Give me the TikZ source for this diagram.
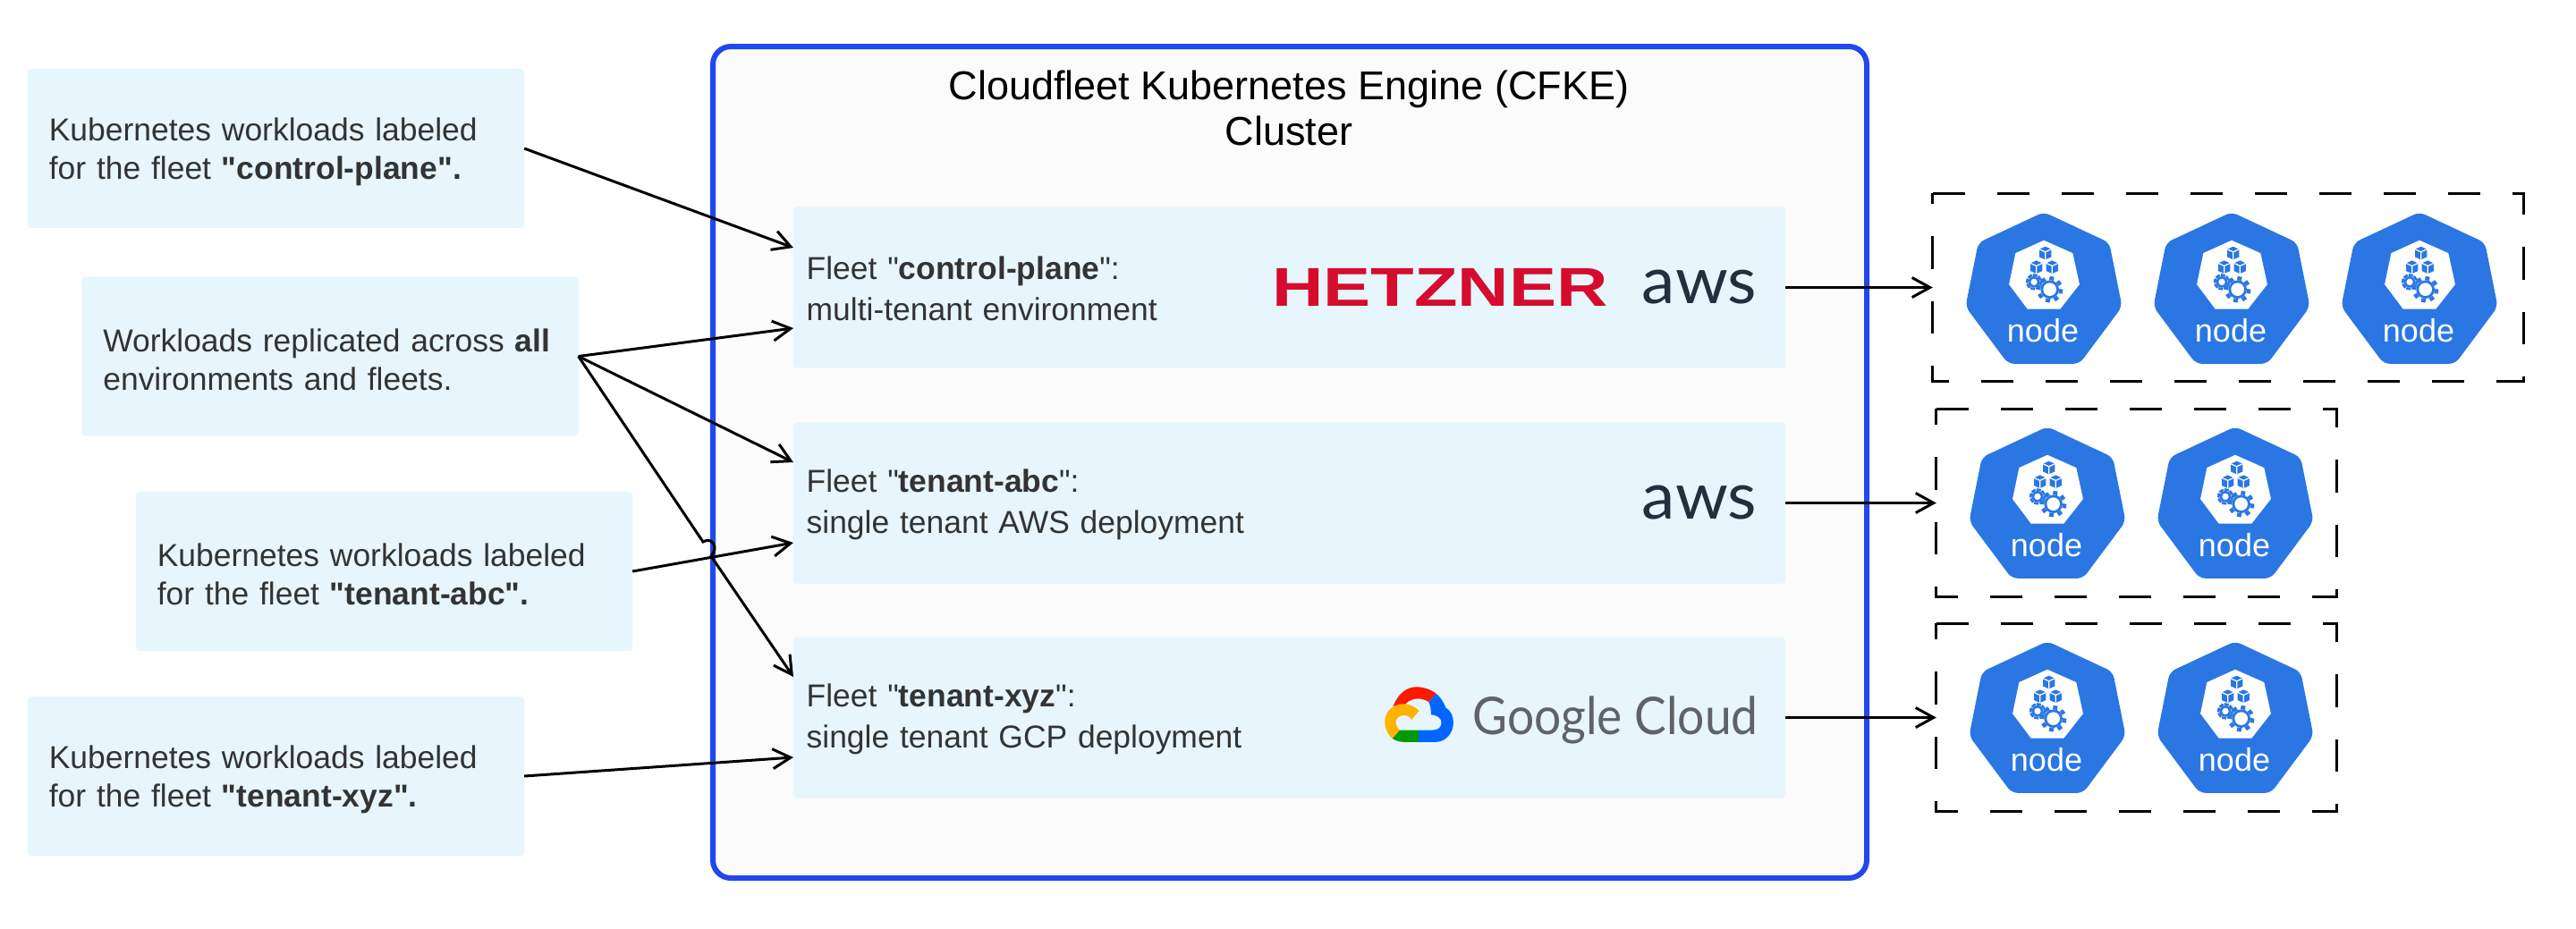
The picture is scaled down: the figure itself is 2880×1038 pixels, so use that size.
\documentclass[tikz,border=0pt]{standalone}
\usepackage{fontspec}
\setmainfont{Liberation Sans}[Ligatures=TeXOff]
\newfontfamily\logofont{Lato}
\usetikzlibrary{arrows.meta}
\definecolor{boxblue}{HTML}{E6F6FC}
\definecolor{clusterblue}{HTML}{2048EE}
\definecolor{kubeblue}{HTML}{2A77E3}
\definecolor{bodygrey}{HTML}{333333}
\definecolor{hetznerred}{HTML}{D50C2D}
\definecolor{awsnavy}{HTML}{232F3E}
\definecolor{googlegrey}{HTML}{5F6368}
\tikzset{
	plainbox/.style={fill=boxblue, rounded corners=0.04cm, text=bodygrey, align=left, outer sep=0, inner ysep=0},
	workbox/.style={plainbox, inner xsep=0.24cm, text width=5.07cm, minimum height=1.78cm, font=\fontsize{10.08}{12.2}\selectfont, execute at begin node={\rule{0pt}{0.33cm}}},
	fleetbox/.style={plainbox, inner xsep=0.15cm, text width=10.79cm, minimum height=1.8cm, font=\fontsize{10.08}{13}\selectfont, execute at begin node={\rule{0pt}{0.29cm}}},
	poolbox/.style={outer sep=0, inner sep=0},
	poolline/.style={line width=0.03cm, dash pattern=on 0.36cm off 0.36cm},
	linkline/.style={line width=0.03cm, -{Straight Barb[length=0.2cm, width=0.22cm]}},
}
\def\kubecube(#1,#2){
	\fill[kubeblue, shift={(#1,#2)}] (0,-22) -- (20,-13) -- (20,13) -- (0,22) -- (-20,13) -- (-20,-13) -- cycle;
	\draw[white, line width=0.012cm, shift={(#1,#2)}] (-20,-13) -- (0,-4) -- (20,-13) (0,-4) -- (0,22);
}
\def\kubegear(#1,#2,#3,#4,#5){
	\foreach \a in {0,45,...,315} {
		\draw[kubeblue, line width=0.05cm, shift={(#1,#2)}] (\a+10:#3) -- (\a+10:#5);
	}
	\fill[kubeblue] (#1,#2) circle (#3);
	\fill[white] (#1,#2) circle (#4);
}
\def\kubenode(#1)(#2,#3){
	\begin{scope}[shift={(#2,#3)}, x=0.00333cm, y=-0.00333cm]
		\fill[kubeblue, rounded corners=0.07cm] (0,-258) -- (220,-155) -- (263,60) -- (120,252) -- (-120,252) -- (-263,60) -- (-220,-155) -- cycle;
		\fill[white] (0,-163) -- (97,-120) -- (120,-15) -- (55,68) -- (-55,68) -- (-117,-15) -- (-95,-120) -- cycle;
		\kubecube(5,-120)
		\kubecube(-25,-73)
		\kubecube(28,-73)
		\kubegear(-33,-23,19,11,27)
		\kubegear(20,2,31,22,44)
		\node[text=white, inner sep=0, font=\fontsize{10.24}{12}\selectfont] (#1) at (-3,140) {node};
	\end{scope}
}

\begin{document}
\begin{tikzpicture}[x=0.01cm, y=-0.01cm]
	%%%%% START %%%%%
	\useasboundingbox (0,0) rectangle (2880,1038);

	\draw[line width=0.06cm, draw=clusterblue, fill=black!1.5, rounded corners=0.2cm] (797,52) rectangle (2087,982);
	\node[inner sep=0, align=center, font=\fontsize{12.8}{14.6}\selectfont] (title) at (1441,121) {Cloudfleet Kubernetes Engine (CFKE)\\Cluster};

	\node[workbox] (labelplane) at (308.5,166) {Kubernetes workloads labeled\\for the fleet \textbf{"control-plane".}};
	\node[workbox] (labelall) at (369,398.5) {\mbox{Workloads replicated across \textbf{all}}\\environments and fleets.};
	\node[workbox] (labelabc) at (429.5,639) {Kubernetes workloads labeled\\for the fleet \textbf{"tenant-abc".}};
	\node[workbox] (labelxyz) at (308.5,868) {Kubernetes workloads labeled\\for the fleet \textbf{"tenant-xyz".}};

	\node[fleetbox] (fleetplane) at (1441.5,321.5) {Fleet "\textbf{control-plane}":\\multi-tenant environment};
	\node[fleetbox] (fleetabc) at (1441.5,562.5) {Fleet "\textbf{tenant-abc}":\\single tenant AWS deployment};
	\node[fleetbox] (fleetxyz) at (1441.5,802.5) {Fleet "\textbf{tenant-xyz}":\\single tenant GCP deployment};

	% logos
	\node[inner sep=0, xscale=1.3, text=hetznerred, font=\fontsize{17.4}{18}\bfseries] (hetzner) at (1610,321) {HETZNER};
	\node[inner sep=0, xscale=1.03, text=awsnavy, font=\fontsize{20.7}{22}\logofont] (awsplane) at (1900,321) {aws};
	\node[inner sep=0, xscale=1.03, text=awsnavy, font=\fontsize{20.7}{22}\logofont] (awsabc) at (1900,562) {aws};
	\node[inner sep=0, xscale=0.92, text=googlegrey, font=\fontsize{16.5}{18}\logofont] (googlecloud) at (1806,805) {Google Cloud};
	\begin{scope}[shift={(1520,740)}, x=0.00333cm, y=-0.00333cm]
		\fill[red!80!orange] (113,150) .. controls (130,105) and (160,85) .. (190,85) .. controls (215,85) and (240,93) .. (258,108) -- (232,135) .. controls (200,115) and (165,125) .. (150,148) -- cycle;
		\fill[blue!60!cyan] (258,108) .. controls (278,125) and (285,145) .. (290,155) .. controls (308,165) and (315,185) .. (315,205) .. controls (315,240) and (290,270) .. (255,270) -- (198,270) -- (198,230) -- (245,230) .. controls (265,230) and (275,220) .. (275,205) .. controls (275,190) and (262,180) .. (240,178) .. controls (240,160) and (238,145) .. (232,135) -- cycle;
		\fill[green!60!black] (110,258) -- (135,230) -- (198,230) -- (198,270) -- (150,270) .. controls (135,270) and (120,265) .. (110,258) -- cycle;
		\fill[orange!60!yellow] (200,165) .. controls (185,150) and (165,142) .. (150,142) .. controls (110,142) and (85,170) .. (85,200) .. controls (85,225) and (95,245) .. (110,258) -- (135,230) .. controls (128,225) and (122,215) .. (122,203) .. controls (122,190) and (135,180) .. (150,180) .. controls (160,180) and (170,187) .. (175,195) -- cycle;
	\end{scope}

	% dashed pools
	\node[poolbox, minimum width=6.6cm, minimum height=2.1cm] (poolplane) at (2491,321.5) {};
	\node[poolbox, minimum width=4.47cm, minimum height=2.1cm] (poolabc) at (2388.5,562.5) {};
	\node[poolbox, minimum width=4.47cm, minimum height=2.1cm] (poolxyz) at (2388.5,802.5) {};
	\draw[poolline] (poolplane.north west) -- (poolplane.north east) -- (poolplane.south east) -- (poolplane.south west) -- cycle;
	\draw[poolline] (poolabc.north west) -- (poolabc.north east) -- (poolabc.south east) -- (poolabc.south west) -- cycle;
	\draw[poolline] (poolxyz.north west) -- (poolxyz.north east) -- (poolxyz.south east) -- (poolxyz.south west) -- cycle;

	\kubenode(nodeplanea)(2285,323)
	\kubenode(nodeplaneb)(2495,323)
	\kubenode(nodeplanec)(2705,323)
	\kubenode(nodeabca)(2289,563)
	\kubenode(nodeabcb)(2499,563)
	\kubenode(nodexyza)(2289,803)
	\kubenode(nodexyzb)(2499,803)

	% connectors
	\coordinate (planetop) at (887,277);
	\coordinate (planelow) at (887,367);
	\coordinate (abctop) at (887,517);
	\coordinate (abcmid) at (887,607);
	\coordinate (xyztop) at (887,757);
	\coordinate (xyzlow) at (887,847);
	\coordinate (hopstart) at (786,606);
	\coordinate (hopend) at (795,622);

	\draw[linkline] (labelplane.east) -- (planetop);
	\draw[linkline] (labelall.east) -- (planelow);
	\draw[linkline] (labelall.east) -- (abctop);
	\draw[linkline] (labelall.east) -- (hopstart) .. controls (796,600) and (804,612) .. (hopend) -- (xyztop);
	\draw[linkline] (labelabc.east) -- (abcmid);
	\draw[linkline] (labelxyz.east) -- (xyzlow);
	\draw[linkline] (fleetplane.east) -- (poolplane.west);
	\draw[linkline] (fleetabc.east) -- (poolabc.west);
	\draw[linkline] (fleetxyz.east) -- (poolxyz.west);
	%%%%% END %%%%%
\end{tikzpicture}
\end{document}
